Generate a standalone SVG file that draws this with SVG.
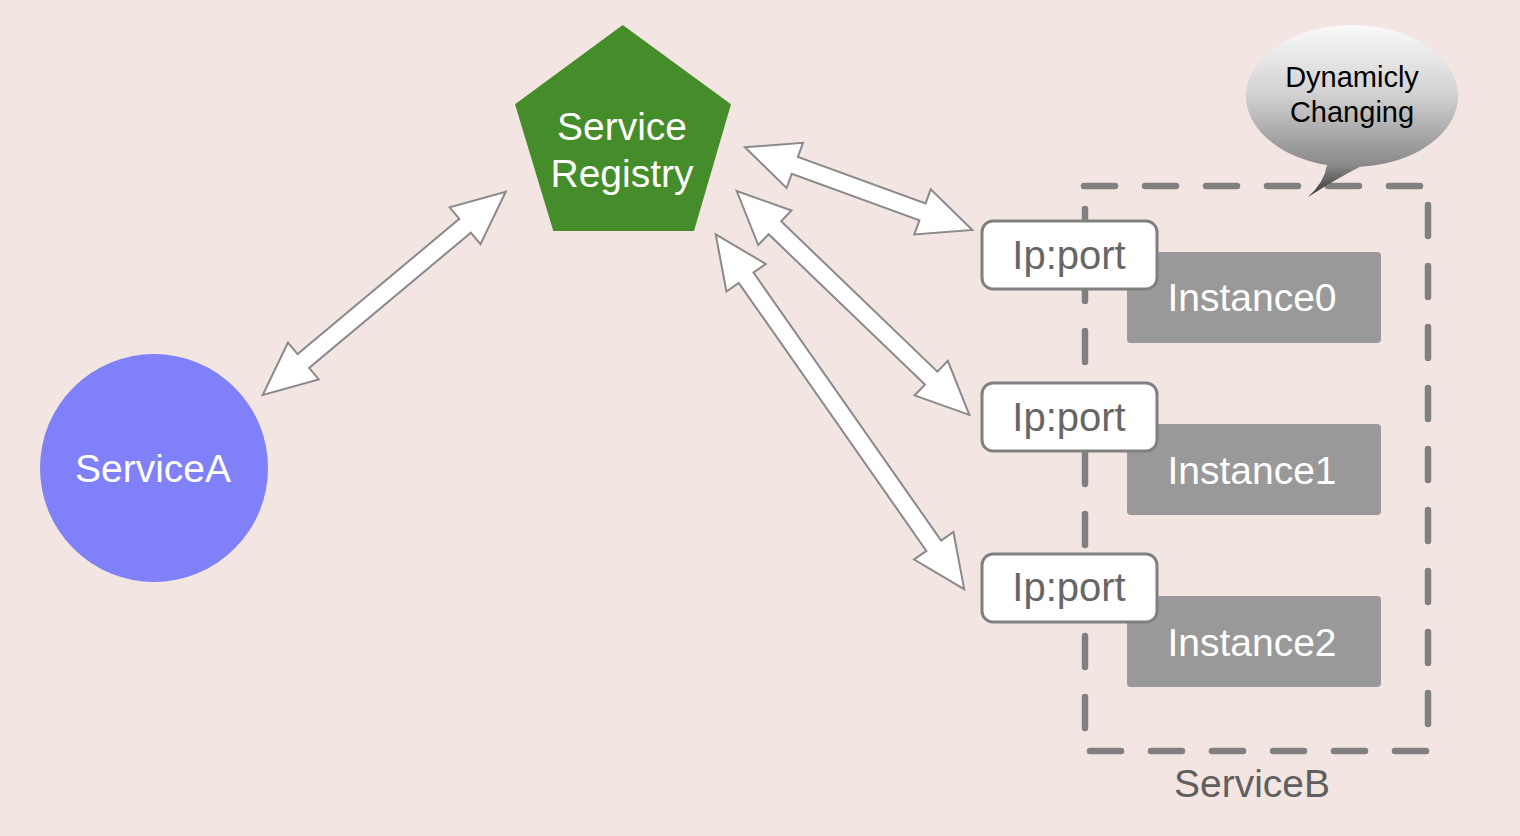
<svg xmlns="http://www.w3.org/2000/svg" width="1520" height="836" viewBox="0 0 1520 836">
<defs>
<linearGradient id="bubbleGrad" gradientUnits="userSpaceOnUse" x1="0" y1="25" x2="0" y2="197">
<stop offset="0" stop-color="#f9f9f9"/>
<stop offset="0.4" stop-color="#d2d2d2"/>
<stop offset="0.82" stop-color="#888888"/>
<stop offset="1" stop-color="#333333"/>
</linearGradient>
<style>
.lbl{font-family:"Liberation Sans",Arial,Helvetica,sans-serif;text-anchor:middle}
.white{fill:#ffffff}
.ip{fill:#ffffff;stroke:#808080;stroke-width:3}
.inst{fill:#999999}
.ipt{fill:#666666;font-size:40px}
.instt{fill:#ffffff;font-size:39px}
.dash{stroke:#808080;stroke-width:6.5;stroke-linecap:round;stroke-dasharray:31 30;fill:none}
.arrow{fill:#ffffff;stroke:#8a8a8a;stroke-width:2;stroke-linejoin:miter}
</style>
</defs>
<rect x="0" y="0" width="1520" height="836" fill="#f3e5e2"/>

<g id="serviceB">
<line class="dash" x1="1084" y1="186" x2="1430" y2="186"/>
<line class="dash" x1="1090" y1="751" x2="1430" y2="751"/>
<line class="dash" x1="1085" y1="209" x2="1085" y2="740"/>
<line class="dash" x1="1428" y1="205" x2="1428" y2="740"/>
<text class="lbl" x="1252" y="797" font-size="39" fill="#5f5f5f">ServiceB</text>
</g>

<g id="instance0">
<rect class="inst" x="1127" y="252" width="254" height="91" rx="4"/>
<text class="lbl instt" x="1252" y="311">Instance0</text>
</g>
<g id="instance1">
<rect class="inst" x="1127" y="424" width="254" height="91" rx="4"/>
<text class="lbl instt" x="1252" y="484">Instance1</text>
</g>
<g id="instance2">
<rect class="inst" x="1127" y="596" width="254" height="91" rx="4"/>
<text class="lbl instt" x="1252" y="656">Instance2</text>
</g>

<g id="ipport0">
<rect class="ip" x="982" y="221" width="175" height="68" rx="11"/>
<text class="lbl ipt" x="1069" y="269">Ip:port</text>
</g>
<g id="ipport1">
<rect class="ip" x="982" y="383" width="175" height="68" rx="11"/>
<text class="lbl ipt" x="1069" y="431">Ip:port</text>
</g>
<g id="ipport2">
<rect class="ip" x="982" y="554" width="175" height="68" rx="11"/>
<text class="lbl ipt" x="1069" y="601">Ip:port</text>
</g>

<g id="bubble">
<path d="M1327,165 A106,71 0 1 1 1360,166.8 Q1338,178 1308,197 Q1324,183 1327,165 Z" fill="url(#bubbleGrad)"/>
<text class="lbl" x="1352" y="87" font-size="29" fill="#000000">Dynamicly</text>
<text class="lbl" x="1352" y="122" font-size="29" fill="#000000">Changing</text>
</g>

<g id="serviceRegistry">
<polygon points="622.7,25 731,104.3 694,231 553.3,231 515,104.3" fill="#458c2a"/>
<text class="lbl white" x="622" y="140" font-size="39">Service</text>
<text class="lbl white" x="622" y="187" font-size="39">Registry</text>
</g>

<g id="serviceA">
<circle cx="154" cy="468" r="114" fill="#8080f8"/>
<text class="lbl white" x="153" y="482" font-size="39">ServiceA</text>
</g>

<g id="connectors">
<polygon class="arrow" transform="translate(262.7,395) rotate(-39.9)" points="0,0 53,-24 53,-9 263.8,-9 263.8,-24 316.8,0 263.8,24 263.8,9 53,9 53,24"/>
<polygon class="arrow" transform="translate(745,147.3) rotate(20)" points="0,0 53,-24 53,-9 188.9,-9 188.9,-24 241.9,0 188.9,24 188.9,9 53,9 53,24"/>
<polygon class="arrow" transform="translate(736.7,191) rotate(43.9)" points="0,0 53,-24 53,-9 269.9,-9 269.9,-24 322.9,0 269.9,24 269.9,9 53,9 53,24"/>
<polygon class="arrow" transform="translate(715.7,234.3) rotate(55)" points="0,0 53,-24 53,-9 380.2,-9 380.2,-24 433.2,0 380.2,24 380.2,9 53,9 53,24"/>
</g>
</svg>
